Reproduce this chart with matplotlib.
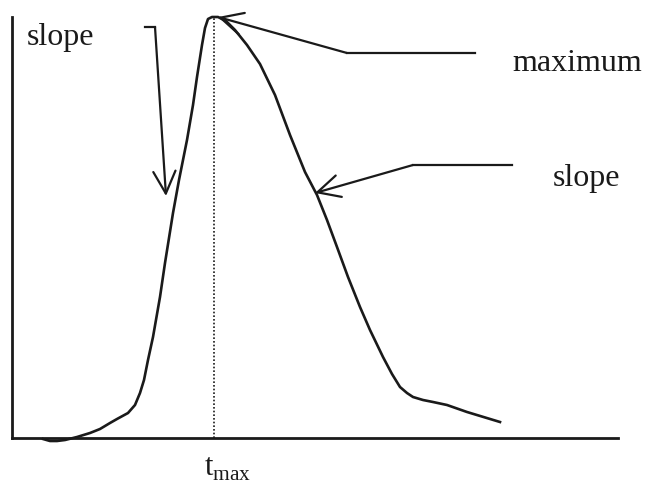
import matplotlib
matplotlib.use("Agg")
import matplotlib.pyplot as plt

plt.rcParams['mathtext.fontset'] = 'custom'
plt.rcParams['mathtext.rm'] = 'Liberation Serif'

# curve values (time, signal)
time = [31, 38, 45, 53, 65, 78, 88, 98, 105, 116, 123, 128, 132, 136, 141, 148, 153,
        161, 167, 175, 181, 185, 190, 193, 196, 200, 206,
        214, 223, 235, 248, 263, 278, 293, 305, 315, 325, 336, 348, 358, 371, 380,
        388, 395, 401, 411, 421, 435, 455, 488]
signal = [-1, -3, -3, -2, 1, 5, 9, 15, 19, 25, 33, 45, 58, 78, 101, 141, 175,
          225, 258, 298, 333, 361, 393, 410, 419, 421, 421,
          417, 408, 393, 374, 343, 303, 266, 243, 218, 191, 161, 131, 108, 81, 64,
          51, 45, 41, 38, 36, 33, 26, 16]
t_max = 202

fig = plt.figure(figsize=(6.46, 5.01), dpi=100)
ax = fig.add_axes([12/646, (501-438)/501, (618-12)/646, (438-17)/501])
ax.set_xlim(0, 606)
ax.set_ylim(0, 421)
for s in ['top', 'right']:
    ax.spines[s].set_visible(False)
for s in ['left', 'bottom']:
    ax.spines[s].set_linewidth(2.0)
    ax.spines[s].set_color('#1a1a1a')
ax.set_xticks([])
ax.set_yticks([])

col = '#1a1a1a'
ax.plot(time, signal, color=col, lw=1.9, clip_on=False, solid_joinstyle='round')
ax.plot([t_max, t_max], [0, 421], color=col, lw=1.2, ls=(0, (1, 1.2)), clip_on=False)

ap = dict(arrowstyle='->,head_length=0.8,head_width=0.4', lw=1.6, color=col,
          shrinkA=0, shrinkB=0, mutation_scale=20)

# left slope arrow
ax.plot([133, 143], [411, 411], color=col, lw=1.6, clip_on=False)
ax.annotate('', xy=(154, 242), xytext=(143, 411), arrowprops=ap, annotation_clip=False)
# maximum arrow
ax.plot([463, 335], [385, 385], color=col, lw=1.6, clip_on=False)
ax.annotate('', xy=(206, 421), xytext=(335, 385), arrowprops=ap, annotation_clip=False)
# right slope arrow
ax.plot([500, 401], [273, 273], color=col, lw=1.6, clip_on=False)
ax.annotate('', xy=(303, 245), xytext=(401, 273), arrowprops=ap, annotation_clip=False)

font = dict(family='Liberation Serif', size=23, color=col)
ax.text(15, 393, 'slope', ha='left', va='baseline', **font)
ax.text(500, 367, 'maximum', ha='left', va='baseline', **font)
ax.text(541, 252, 'slope', ha='left', va='baseline', **font)
ax.text(t_max - 10, -38, r'$\mathrm{t}_{\mathrm{max}}$', ha='left', va='baseline',
        fontsize=22, color=col)

fig.savefig('out.png', dpi=100)
